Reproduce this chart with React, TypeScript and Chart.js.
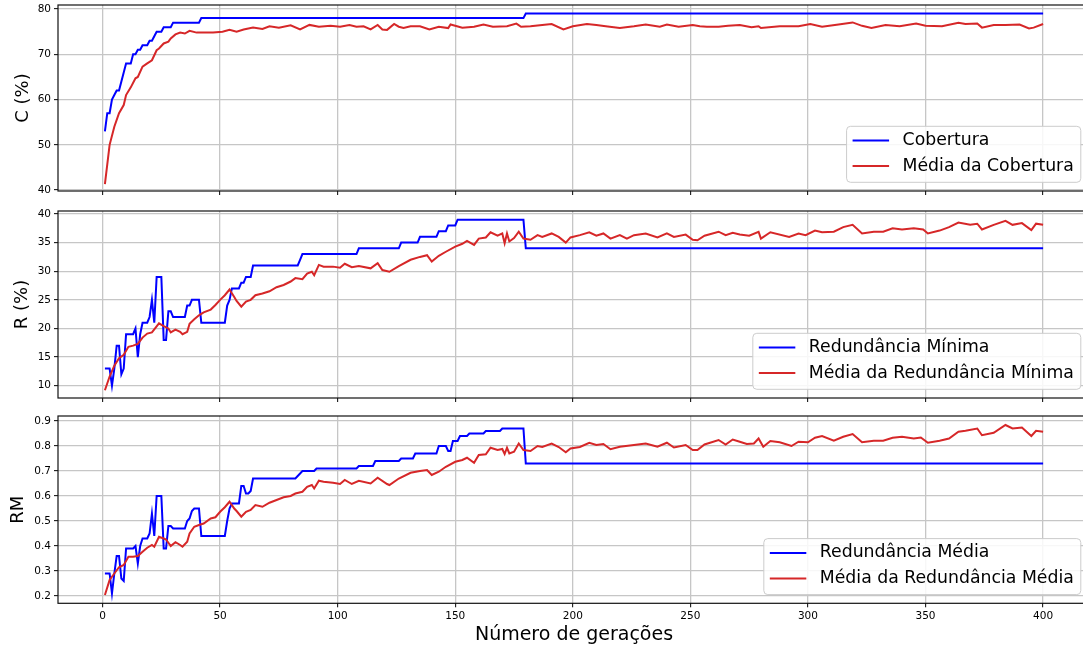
import React, { useEffect, useRef } from "react";
import { Chart, registerables } from "chart.js";

Chart.register(...registerables);

const FONT = "'DejaVu Sans', 'Liberation Sans', sans-serif";
const BLUE = "#0000ff";
const RED = "#d62728";
const GRID = "#c6c6c6";

// ---------- shared x axis ----------
const X_TICKS = [0, 50, 100, 150, 200, 250, 300, 350, 400];
const X_MIN = -18.95;
const X_MAX = 419.95;
const X_TITLE = "Número de gerações";

// ---------- panel 1: Cobertura ----------
const C_TICKS = [40, 50, 60, 70, 80];
const C_LABELS = ["Cobertura", "Média da Cobertura"];
const C_BEST_GEN = [1, 2, 3, 4, 5, 6, 7, 8, 9, 10, 12, 13, 14, 15, 16, 17, 19, 20, 21, 22, 23, 25, 26, 29, 30, 41, 42, 179, 180, 400];
const C_BEST = [53, 57, 57, 60, 61, 62, 62, 64, 66, 68, 68, 70, 70, 71, 71, 72, 72, 73, 73, 74, 75, 75, 76, 76, 77, 77, 78, 78, 79, 79];
const C_MEAN_GEN = [1, 3, 5, 7, 9, 10, 12, 14, 15, 17, 19, 21, 23, 24, 26, 28, 29, 31, 33, 35, 37, 40, 43, 47, 51, 54, 57, 60, 64, 68, 71, 75, 80, 84, 88, 92, 97, 101, 105, 108, 111, 114, 117, 119, 121, 124, 126, 128, 131, 135, 139, 143, 147, 148, 153, 158, 162, 166, 172, 176, 178, 182, 187, 191, 196, 200, 206, 210, 214, 220, 226, 231, 237, 240, 245, 251, 254, 257, 262, 266, 271, 276, 279, 280, 288, 296, 301, 306, 313, 319, 323, 327, 333, 339, 346, 350, 357, 364, 367, 372, 374, 379, 384, 390, 394, 396, 400];
const C_MEAN = [41.3, 50, 54, 57, 58.8, 61, 62.7, 64.7, 65, 67.3, 68, 68.7, 70.9, 71.3, 72.4, 72.8, 73.5, 74.4, 74.8, 74.6, 75.2, 74.8, 74.8, 74.8, 75, 75.4, 75, 75.5, 75.9, 75.6, 76.2, 75.9, 76.4, 75.5, 76.5, 76.1, 76.3, 76.1, 76.5, 76.1, 76.2, 75.5, 76.5, 75.5, 75.4, 76.7, 76.1, 75.8, 76.2, 76.2, 75.5, 76.1, 75.8, 76.6, 75.9, 76.1, 76.6, 76.1, 76.2, 76.8, 76.1, 76.2, 76.5, 76.7, 75.5, 76.2, 76.7, 76.5, 76.2, 75.8, 76.2, 76.6, 76.1, 76.6, 76.1, 76.5, 76.2, 76.1, 76.1, 76.3, 76.5, 76.0, 76.2, 75.8, 76.2, 76.2, 76.7, 76.1, 76.6, 77.05, 76.3, 75.8, 76.5, 76.2, 76.8, 76.3, 76.2, 77, 76.7, 76.8, 75.9, 76.5, 76.5, 76.6, 75.7, 75.9, 76.7];

// ---------- panel 2: Redundância Mínima ----------
const R_TICKS = [10, 15, 20, 25, 30, 35, 40];
const R_LABELS = ["Redundância Mínima", "Média da Redundância Mínima"];
const R_BEST_GEN = [1, 3, 4, 5, 6, 7, 8, 9, 10, 13, 14, 15, 16, 17, 19, 20, 21, 22, 23, 25, 26, 27, 28, 29, 30, 35, 36, 37, 38, 41, 42, 52, 53, 54, 55, 58, 59, 60, 61, 63, 64, 83, 84, 85, 108, 109, 126, 127, 134, 135, 142, 143, 146, 147, 150, 151, 179, 180, 400];
const R_BEST = [13, 13, 10, 13, 17, 17, 12, 13, 19, 19, 20, 15, 19, 21, 21, 22, 25, 21, 29, 29, 18, 18, 23, 23, 22, 22, 24, 24, 25, 25, 21, 21, 24, 25, 27, 27, 28, 28, 29, 29, 31, 31, 32, 33, 33, 34, 34, 35, 35, 36, 36, 37, 37, 38, 38, 39, 39, 34, 34];
const R_MEAN_GEN = [1, 3, 5, 7, 9, 11, 13, 15, 17, 19, 21, 24, 26, 28, 29, 31, 33, 34, 36, 37, 39, 41, 43, 46, 48, 50, 52, 54, 56, 57, 59, 61, 63, 65, 68, 71, 74, 77, 80, 82, 85, 87, 89, 90, 92, 94, 98, 101, 103, 106, 109, 114, 117, 119, 122, 126, 131, 135, 138, 140, 143, 146, 150, 153, 155, 158, 160, 163, 165, 168, 170, 171, 172, 173, 175, 177, 179, 182, 185, 187, 191, 194, 197, 199, 203, 207, 210, 213, 216, 220, 223, 226, 231, 236, 240, 243, 248, 251, 253, 256, 262, 265, 268, 271, 275, 279, 280, 284, 292, 296, 299, 303, 306, 311, 315, 319, 323, 328, 332, 336, 340, 345, 349, 351, 356, 360, 364, 369, 372, 374, 379, 384, 387, 391, 395, 397, 400];
const R_MEAN = [9.2, 11.6, 13.5, 14.8, 15.4, 16.8, 17, 17.3, 18.4, 19.1, 19.3, 20.9, 20.4, 20, 19.3, 19.8, 19.4, 19, 19.4, 20.8, 21.6, 22.3, 22.8, 23.3, 24.1, 25, 25.8, 26.8, 25.5, 24.8, 23.8, 24.7, 25, 25.8, 26.1, 26.5, 27.2, 27.6, 28.2, 28.8, 28.6, 29.6, 29.9, 29.3, 31.1, 30.8, 30.8, 30.6, 31.3, 30.7, 30.9, 30.5, 31.4, 30.2, 29.9, 30.9, 32, 32.5, 32.8, 31.7, 32.7, 33.4, 34.3, 34.8, 35.3, 34.6, 35.7, 35.9, 36.8, 36.2, 36.6, 34.9, 36.6, 35.2, 35.8, 36.9, 35.7, 35.5, 36.3, 36, 36.6, 36, 35, 35.9, 36.3, 36.8, 36.2, 36.6, 35.7, 36.3, 35.7, 36.3, 36.6, 35.9, 36.6, 36, 36.4, 35.5, 35.4, 36.2, 36.9, 36.3, 36.7, 36.4, 36.2, 36.9, 35.7, 36.8, 36, 36.6, 36.3, 37.1, 36.8, 36.9, 37.7, 38.1, 36.6, 36.9, 36.9, 37.5, 37.3, 37.5, 37.3, 36.6, 37.1, 37.7, 38.5, 38.1, 38.3, 37.3, 38.1, 38.8, 38.1, 38.4, 37.2, 38.3, 38.1];

// ---------- panel 3: Redundância Média ----------
const RM_TICKS = [0.2, 0.3, 0.4, 0.5, 0.6, 0.7, 0.8, 0.9];
const RM_LABELS = ["Redundância Média", "Média da Redundância Média"];
const RM_BEST_GEN = [1, 3, 4, 5, 6, 7, 8, 9, 10, 13, 14, 15, 16, 17, 19, 20, 21, 22, 23, 25, 26, 27, 28, 29, 30, 35, 36, 37, 38, 39, 41, 42, 52, 53, 54, 55, 58, 59, 60, 61, 62, 63, 64, 82, 83, 85, 90, 91, 108, 109, 115, 116, 126, 127, 132, 133, 142, 143, 146, 147, 148, 149, 151, 152, 155, 156, 162, 163, 169, 170, 179, 180, 400];
const RM_BEST = [0.29, 0.29, 0.21, 0.29, 0.36, 0.36, 0.27, 0.26, 0.39, 0.39, 0.40, 0.33, 0.40, 0.43, 0.43, 0.45, 0.53, 0.44, 0.60, 0.60, 0.39, 0.39, 0.48, 0.48, 0.47, 0.47, 0.50, 0.51, 0.54, 0.55, 0.55, 0.44, 0.44, 0.50, 0.55, 0.57, 0.57, 0.64, 0.64, 0.61, 0.61, 0.62, 0.67, 0.67, 0.68, 0.70, 0.70, 0.71, 0.71, 0.72, 0.72, 0.74, 0.74, 0.75, 0.75, 0.77, 0.77, 0.80, 0.80, 0.78, 0.78, 0.82, 0.82, 0.84, 0.84, 0.85, 0.85, 0.86, 0.86, 0.87, 0.87, 0.73, 0.73];
const RM_MEAN_GEN = [1, 3, 5, 7, 9, 11, 13, 15, 17, 19, 21, 22, 24, 26, 27, 29, 31, 33, 34, 36, 37, 39, 41, 43, 46, 48, 50, 52, 54, 56, 57, 59, 61, 63, 65, 68, 71, 74, 77, 80, 82, 85, 87, 89, 90, 92, 94, 98, 101, 103, 106, 109, 114, 117, 121, 122, 126, 131, 135, 138, 140, 143, 146, 150, 153, 155, 158, 160, 163, 165, 168, 170, 171, 172, 173, 175, 177, 179, 182, 185, 187, 191, 194, 197, 199, 203, 207, 210, 213, 216, 220, 226, 231, 236, 240, 243, 248, 251, 253, 256, 262, 265, 268, 271, 274, 277, 279, 281, 284, 288, 293, 296, 300, 303, 306, 311, 315, 319, 323, 328, 332, 336, 340, 345, 348, 351, 356, 360, 364, 367, 372, 374, 379, 384, 387, 391, 395, 397, 400];
const RM_MEAN = [0.204, 0.264, 0.29, 0.315, 0.324, 0.357, 0.357, 0.36, 0.377, 0.393, 0.404, 0.397, 0.437, 0.43, 0.426, 0.40, 0.415, 0.404, 0.397, 0.417, 0.45, 0.477, 0.484, 0.49, 0.51, 0.515, 0.537, 0.555, 0.577, 0.55, 0.54, 0.517, 0.537, 0.544, 0.564, 0.557, 0.573, 0.584, 0.595, 0.6, 0.61, 0.617, 0.637, 0.644, 0.63, 0.661, 0.657, 0.653, 0.648, 0.664, 0.648, 0.661, 0.65, 0.673, 0.648, 0.644, 0.67, 0.693, 0.70, 0.704, 0.684, 0.697, 0.717, 0.737, 0.744, 0.753, 0.733, 0.764, 0.767, 0.793, 0.784, 0.788, 0.768, 0.793, 0.77, 0.777, 0.81, 0.784, 0.78, 0.80, 0.796, 0.81, 0.796, 0.775, 0.79, 0.796, 0.813, 0.804, 0.808, 0.787, 0.797, 0.804, 0.81, 0.797, 0.813, 0.794, 0.804, 0.784, 0.784, 0.806, 0.824, 0.806, 0.826, 0.817, 0.808, 0.81, 0.83, 0.797, 0.82, 0.815, 0.8, 0.817, 0.815, 0.833, 0.84, 0.821, 0.837, 0.848, 0.815, 0.821, 0.821, 0.833, 0.837, 0.83, 0.834, 0.813, 0.821, 0.83, 0.857, 0.861, 0.87, 0.843, 0.853, 0.884, 0.87, 0.874, 0.84, 0.861, 0.857];

const pts = (xs: number[], ys: number[]) => xs.map((x, i) => ({ x, y: ys[i] }));

const PANELS = [
  {
    top: 0, height: 200, padTop: 5, padBottom: 0, axisH: 9,
    yMin: 39.8, yMax: 80.9, yTicks: C_TICKS, decimals: 0,
    yTitle: "C (%)", titlePad: 13, showX: false,
    labels: C_LABELS, bestGen: C_BEST_GEN, best: C_BEST, meanGen: C_MEAN_GEN, mean: C_MEAN,
  },
  {
    top: 200, height: 207, padTop: 11, padBottom: 0, axisH: 9,
    yMin: 7.85, yMax: 40.52, yTicks: R_TICKS, decimals: 0,
    yTitle: "R (%)", titlePad: 11.4, showX: false,
    labels: R_LABELS, bestGen: R_BEST_GEN, best: R_BEST, meanGen: R_MEAN_GEN, mean: R_MEAN,
  },
  {
    top: 405, height: 242, padTop: 11, padBottom: 0, axisH: 43.7,
    yMin: 0.1708, yMax: 0.92, yTicks: RM_TICKS, decimals: 1,
    yTitle: "RM", titlePad: 7.5, showX: true,
    labels: RM_LABELS, bestGen: RM_BEST_GEN, best: RM_BEST, meanGen: RM_MEAN_GEN, mean: RM_MEAN,
  },
];

const mplPlugin = {
  id: "mplFrameLegend",
  afterDatasetsDraw(chart: any) {
    const { ctx, chartArea: a } = chart;
    ctx.save();
    ctx.strokeStyle = "#111";
    ctx.lineWidth = 1.2;
    ctx.strokeRect(a.left, a.top, a.right - a.left, a.bottom - a.top);
    ctx.restore();
  },
  afterDraw(chart: any) {
    const { ctx, chartArea: a } = chart;
    const ds = chart.data.datasets;
    ctx.save();
    ctx.font = `17.3px ${FONT}`;
    const textW = Math.max(...ds.map((d: any) => ctx.measureText(d.label).width));
    const w = 56 + textW + 7;
    const h = 56;
    const right = a.right - 9.2;
    const bottom = a.bottom - 8.7;
    const left = right - w;
    const top = bottom - h;
    ctx.beginPath();
    if ((ctx as any).roundRect) (ctx as any).roundRect(left, top, w, h, 4);
    else ctx.rect(left, top, w, h);
    ctx.fillStyle = "rgba(255,255,255,0.85)";
    ctx.fill();
    ctx.strokeStyle = "#cccccc";
    ctx.lineWidth = 1;
    ctx.stroke();
    ds.forEach((d: any, i: number) => {
      const cy = top + 14.3 + i * 25.5;
      ctx.beginPath();
      ctx.moveTo(left + 6, cy);
      ctx.lineTo(left + 42.5, cy);
      ctx.strokeStyle = d.borderColor;
      ctx.lineWidth = 2;
      ctx.stroke();
      ctx.fillStyle = "#000";
      ctx.textBaseline = "middle";
      ctx.textAlign = "left";
      ctx.fillText(d.label, left + 56, cy);
    });
    ctx.restore();
  },
};

export default function App() {
  const refs = useRef<(HTMLCanvasElement | null)[]>([]);

  useEffect(() => {
    Chart.defaults.font.family = FONT;
    Chart.defaults.color = "#000";
    const charts = PANELS.map((p, idx) => {
      const canvas = refs.current[idx] as HTMLCanvasElement;
      return new Chart(canvas, {
        type: "line",
        data: {
          datasets: [
            {
              label: p.labels[0],
              data: pts(p.bestGen, p.best),
              borderColor: BLUE,
              backgroundColor: BLUE,
              borderWidth: 2,
              pointRadius: 0,
              tension: 0,
              order: 2,
            },
            {
              label: p.labels[1],
              data: pts(p.meanGen, p.mean),
              borderColor: RED,
              backgroundColor: RED,
              borderWidth: 2,
              pointRadius: 0,
              tension: 0,
              order: 1,
            },
          ],
        },
        options: {
          animation: false,
          responsive: false,
          devicePixelRatio: 1,
          events: [],
          layout: { padding: { top: p.padTop, left: 0, right: 0, bottom: p.padBottom } },
          plugins: { legend: { display: false }, tooltip: { enabled: false } },
          scales: {
            x: {
              type: "linear",
              min: X_MIN,
              max: X_MAX,
              bounds: "data",
              afterBuildTicks: (s: any) => {
                s.ticks = X_TICKS.map((v) => ({ value: v }));
              },
              afterFit: (s: any) => {
                s.height = p.axisH;
                s.paddingLeft = 0;
                s.paddingRight = 0;
              },
              ticks: {
                display: p.showX,
                autoSkip: false,
                maxRotation: 0,
                font: { family: FONT, size: 10.5 },
                color: "#000",
                padding: 3,
                callback: (v: any) => String(v),
              },
              grid: { color: GRID, lineWidth: 1.3, tickColor: "#000", tickLength: 4, tickWidth: 1 },
              border: { display: false },
              title: {
                display: p.showX,
                text: X_TITLE,
                font: { family: FONT, size: 19 },
                color: "#000",
                padding: { top: 0, bottom: 0.6 },
              },
            },
            y: {
              type: "linear",
              min: p.yMin,
              max: p.yMax,
              bounds: "data",
              afterBuildTicks: (s: any) => {
                s.ticks = p.yTicks.map((v) => ({ value: v }));
              },
              afterFit: (s: any) => {
                s.width = 58;
                s.paddingTop = 0;
                s.paddingBottom = 0;
              },
              ticks: {
                font: { family: FONT, size: 10.5 },
                color: "#000",
                padding: 3,
                callback: (v: any) => Number(v).toFixed(p.decimals),
              },
              grid: { color: GRID, lineWidth: 1.3, tickColor: "#000", tickLength: 4, tickWidth: 1 },
              border: { display: false },
              title: {
                display: true,
                text: p.yTitle,
                font: { family: FONT, size: 18 },
                color: "#000",
                padding: { top: p.titlePad, bottom: 0 },
              },
            },
          },
        },
        plugins: [mplPlugin],
      } as any);
    });
    return () => charts.forEach((c) => c.destroy());
  }, []);

  return (
    <div
      style={{
        position: "fixed",
        left: 0,
        top: 0,
        width: 1083,
        height: 647,
        overflow: "hidden",
        background: "#fff",
      }}
    >
      {PANELS.map((p, i) => (
        <canvas
          key={i}
          ref={(el) => {
            refs.current[i] = el;
          }}
          width={1090}
          height={p.height}
          style={{ position: "absolute", left: 0, top: p.top, width: 1090, height: p.height }}
        />
      ))}
    </div>
  );
}
